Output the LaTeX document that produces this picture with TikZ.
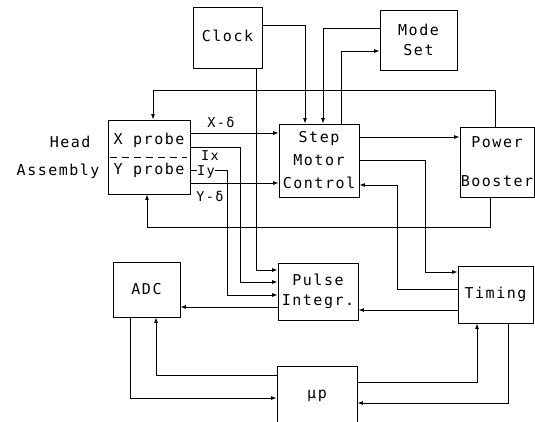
\documentclass[tikz,border=0pt]{standalone}
\usepackage{fontspec}
\newfontfamily\plotfont{DejaVu Sans Mono}[LetterSpace=10]
\usetikzlibrary{arrows.meta}
\begin{document}
\begin{tikzpicture}[x=1pt,y=-1pt,
  txt/.style={font=\plotfont\fontsize{15}{17}\selectfont},
  blk/.style={txt, draw, line width=0.9pt, inner sep=0pt, align=center},
  lbl/.style={font=\plotfont\fontsize{13.5}{15}\selectfont, inner sep=0pt, fill=white},
  wire/.style={line width=0.9pt},
  arr/.style={wire, -{Latex[length=5.5pt,width=4pt]}},
]
\useasboundingbox (0,0) rectangle (535,422);
% blocks
\node[blk, minimum width=69pt, minimum height=61pt] (clock) at (227.5,37.5) {\raisebox{4pt}{Clock}};
\node[blk, minimum width=77pt, minimum height=60pt] (mode) at (418.5,40) {Mode\\[3pt]Set};
\node[blk, minimum width=82pt, minimum height=74pt] (head) at (149,157) {};
\node[blk, minimum width=80pt, minimum height=73pt] (smc) at (319,160.5) {Step\\[6pt]Motor\\[6pt]Control};
\node[blk, minimum width=74pt, minimum height=70pt] (pb) at (497,162) {Power\\[22pt]Booster};
\node[blk, minimum width=67pt, minimum height=55pt] (adc) at (146.5,289.5) {ADC};
\node[blk, minimum width=80pt, minimum height=57pt] (pi) at (318,291.5) {Pulse\\[3pt]Integr.};
\node[blk, minimum width=75pt, minimum height=57pt] (tim) at (495.5,294.5) {\raisebox{-2pt}{Timing}};
\node[blk, minimum width=80pt, minimum height=60pt] (up) at (317,396) {µp};
% head assembly interior
\node[txt, inner sep=0pt] (xp) at (149,140) {X probe};
\node[txt, inner sep=0pt] (yp) at (149,170) {Y probe};
\draw[wire, dashed, dash pattern=on 7pt off 5pt] ([xshift=2pt]head.west) -- ([xshift=-3pt]head.east);
\node[txt, anchor=east] (hd) at (94,142) {Head};
\node[txt, anchor=east] (asm) at (103,171) {Assembly};
% connectors
\draw[arr] (clock.east |- 0,25) -| (smc.north -| 305,0);
\draw[arr] (mode.west |- 0,28) -| (smc.north -| 323,0);
\draw[arr] (smc.north -| 341,0) |- (mode.west |- 0,51);
\draw[arr] (pb.north -| 495,0) -- (495,90) -- (153,90) -- (head.north -| 153,0);
\draw[arr] (pb.south -| 490,0) |- (147,227) -- (head.south -| 147,0);
\draw[arr] (head.east |- 0,133) -- (smc.west |- 0,133);
\draw[arr] (head.east |- 0,183) -- (smc.west |- 0,183);
\draw[arr] (head.east |- 0,147) -| (240,282) -- (pi.west |- 0,282);
\draw[arr] (head.east |- 0,170) -| (227,295) -- (pi.west |- 0,295);
\draw[arr] (clock.south -| 256,0) |- (pi.west |- 0,270);
\draw[arr] (smc.east |- 0,137) -- (pb.west |- 0,137);
\draw[arr] (smc.east |- 0,160) -| (425,272) -- (tim.west |- 0,272);
\draw[arr] (tim.west |- 0,289) -| (397,185) -- (smc.east |- 0,185);
\draw[arr] (tim.west |- 0,310) -- (pi.east |- 0,310);
\draw[arr] (pi.west |- 0,307) -- (adc.east |- 0,307);
\draw[arr] (adc.south -| 130,0) |- (up.west |- 0,398);
\draw[arr] (up.west |- 0,375) -| (adc.south -| 156,0);
\draw[arr] (up.east |- 0,382) -| (tim.south -| 477,0);
\draw[arr] (tim.south -| 508,0) |- (up.east |- 0,403);
% wire labels
\node[lbl] (lxd) at (221,122) {X-δ};
\node[lbl] (lix) at (210,156) {Ix};
\node[lbl] (liy) at (206,172) {Iy};
\node[lbl, fill=none] (lyd) at (210,196) {Y-δ};
\end{tikzpicture}
\end{document}
